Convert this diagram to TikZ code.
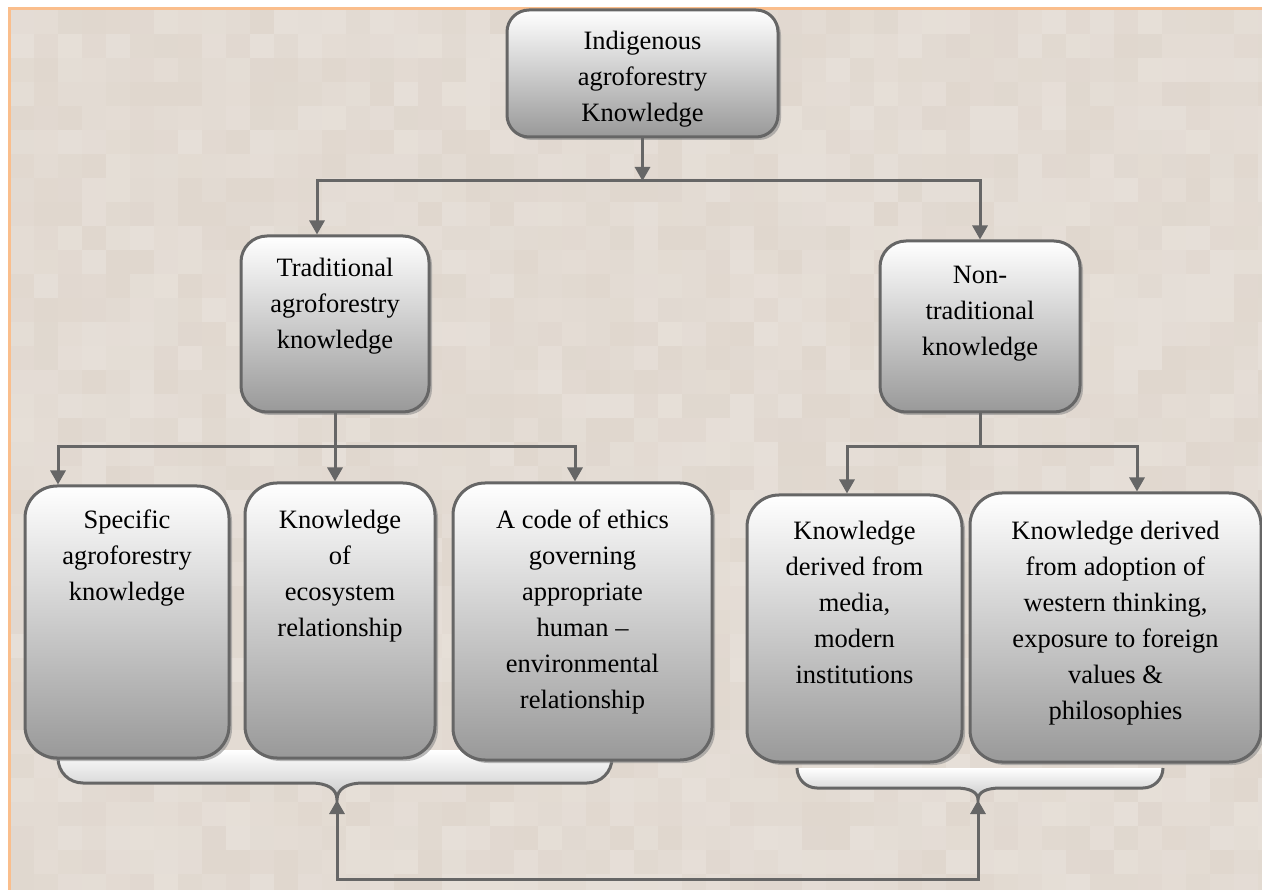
\documentclass[tikz,border=0pt]{standalone}
\usepackage{fontspec}
\setmainfont{Liberation Serif}
\usetikzlibrary{arrows.meta}
\usetikzlibrary{shadows}
\definecolor{linegray}{RGB}{102,102,102}
\definecolor{paper}{RGB}{224,215,206}
\definecolor{edgeorange}{RGB}{250,190,140}
\tikzset{
	kbox/.style={draw=linegray, line width=3pt, rounded corners=#1, inner sep=0pt,
		top color=white, bottom color=black!40,
		font=\fontsize{26.5}{36}\selectfont,
		drop shadow={shadow xshift=3pt, shadow yshift=-3pt, fill=black!45, opacity=.6}},
	kbox/.default=32pt
}
\tikzset{
	link/.style={draw=linegray, line width=3pt},
	arr/.style={link, -{Triangle[length=14pt,width=15pt]}},
	arrs/.style={link, {Triangle[length=14pt,width=15pt]}-{Triangle[length=14pt,width=15pt]}},
	brace/.style={top color=white, bottom color=black!22}
}
\newcommand{\boxtext}[4]{\parbox[c][#1pt][t]{#2pt}{\centering\vspace*{#3pt}\strut #4}}

\begin{document}
\begin{tikzpicture}[x=1pt,y=-1pt]
	\useasboundingbox (0,0) rectangle (1262,890);
	% paper background
	\begin{scope}
		\clip (10,10) rectangle (1262,890);
		\fill[paper] (10,10) rectangle (1262,890);
		\pgfmathsetseed{11}
		\foreach \i in {0,...,52}{
			\foreach \j in {0,...,36}{
				\pgfmathsetmacro{\op}{0.22*rnd}
				\fill[white, opacity=\op] (10+24*\i,10+24*\j) rectangle ++(24,24);
			}
		}
	\end{scope}
	\draw[edgeorange, line width=3pt] (8,9) -- (1262,9);
	\draw[edgeorange, line width=3pt] (9,9) -- (9,890);

	% brackets under the lower boxes
	\fill[brace] (58,750) -- (58,758) .. controls (58,772) and (69,783) .. (83,783) -- (310,783) .. controls (328,783) and (337,789) .. (337,800) .. controls (337,789) and (346,783) .. (364,783) -- (587,783) .. controls (601,783) and (612,772) .. (612,758) -- (612,750) -- cycle;
	\draw[link] (58,750) -- (58,758) .. controls (58,772) and (69,783) .. (83,783) -- (310,783) .. controls (328,783) and (337,789) .. (337,800) .. controls (337,789) and (346,783) .. (364,783) -- (587,783) .. controls (601,783) and (612,772) .. (612,758) -- (612,750);
	\fill[brace] (797,768) .. controls (797,779) and (806,788) .. (817,788) -- (955,788) .. controls (970,788) and (978,792) .. (978,800) .. controls (978,792) and (986,788) .. (1001,788) -- (1143,788) .. controls (1154,788) and (1163,779) .. (1163,768) -- cycle;
	\draw[link] (797,768) .. controls (797,779) and (806,788) .. (817,788) -- (955,788) .. controls (970,788) and (978,792) .. (978,800) .. controls (978,792) and (986,788) .. (1001,788) -- (1143,788) .. controls (1154,788) and (1163,779) .. (1163,768);
	\coordinate (lbr) at (337,800);
	\coordinate (rbr) at (978,800);
	\coordinate (base) at (978,879);

	% boxes
	\node[kbox=22pt] (top) at (642.5,73.5) {\boxtext{127}{271}{14}{Indigenous\\agroforestry\\Knowledge}};
	\node[kbox=26pt] (trad) at (335,324) {\boxtext{176}{188}{15}{Traditional\\agroforestry\\knowledge}};
	\node[kbox=26pt] (ntrad) at (980,326.5) {\boxtext{171}{200}{17}{Non-\\traditional\\knowledge}};
	\node[kbox] (spec) at (127,622) {\boxtext{272}{204}{17}{Specific\\agroforestry\\knowledge}};
	\node[kbox] (eco) at (340,620.5) {\boxtext{275}{190}{20}{Knowledge\\of\\ecosystem\\relationship}};
	\node[kbox] (code) at (582.5,621.5) {\boxtext{277}{259}{20}{A code of ethics\\governing\\appropriate\\human --\\environmental\\relationship}};
	\node[kbox] (media) at (854.5,628.5) {\boxtext{267}{215}{19}{Knowledge\\derived from\\media,\\modern\\institutions}};
	\node[kbox] (west) at (1115.5,627.5) {\boxtext{269}{291}{21}{Knowledge derived\\from adoption of\\western thinking,\\exposure to foreign\\values \&\\philosophies}};

	% connectors
	\coordinate (jtop) at (top.south |- 0,181);
	\draw[arr] (top.south) -- (jtop);
	\draw[arrs] (trad.north -| 317,0) |- (jtop) -| (ntrad.north);
	\coordinate (jtrad) at (trad.south |- 0,447);
	\draw[arr] (trad.south) -- (trad.south |- eco.north);
	\draw[arrs] (spec.north -| 58,0) |- (jtrad) -| (code.north -| 575,0);
	\coordinate (jntrad) at (ntrad.south |- 0,447);
	\draw[link] (ntrad.south) -- (jntrad);
	\draw[arrs] (media.north -| 847,0) |- (jntrad) -| (west.north -| 1137,0);
	\draw[arrs] (lbr) |- (base) -- (rbr);
\end{tikzpicture}
\end{document}
